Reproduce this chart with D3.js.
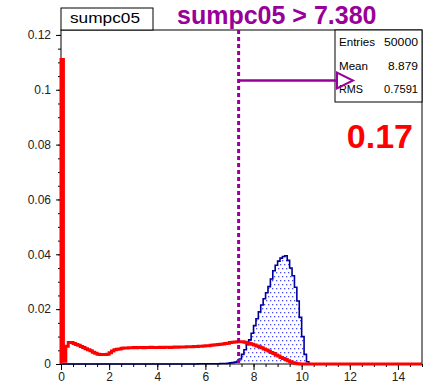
<!DOCTYPE html>
<html lang="en">
  <head>
    <meta charset="UTF-8" />
    <title>sumpc05</title>
    <style>
      body { margin: 0; background: #fff; }
      text { font-family: "Liberation Sans", Arial, Helvetica, sans-serif; }
    </style>
  </head>
  <body>
    <div class="chart"></div>

    <script src="https://cdn.jsdelivr.net/npm/d3@7"></script>

    <script>
      // data ======================================================
      const histName = "sumpc05";
      const cutValue = 7.38;
      const cutLabel = "sumpc05 > 7.380";
      const fracLabel = "0.17";
      const binLow = 0;
      const binWidth = 0.1;

      // background (red), 150 bins of 0.1 from 0 to 15
      const redValues = [
        0.111, 0.001, 0.0065, 0.0078, 0.0078, 0.0075, 0.0071, 0.0068, 0.0064, 0.006,
        0.0056, 0.0052, 0.0048, 0.0043, 0.0039, 0.0036, 0.0035, 0.0035, 0.0035, 0.0036,
        0.0041, 0.0047, 0.0052, 0.0054, 0.0055, 0.0057, 0.0058, 0.0058, 0.0059, 0.0059,
        0.006, 0.0059, 0.006, 0.006, 0.0059, 0.006, 0.006, 0.0061, 0.006, 0.006,
        0.006, 0.0061, 0.006, 0.0061, 0.0061, 0.006, 0.0061, 0.0062, 0.0061, 0.0062,
        0.0062, 0.0062, 0.0063, 0.0063, 0.0063, 0.0064, 0.0064, 0.0065, 0.0065, 0.0066,
        0.0067, 0.0067, 0.0068, 0.0069, 0.007, 0.0071, 0.0072, 0.0073, 0.0075, 0.0076,
        0.0078, 0.0079, 0.008, 0.0081, 0.0081, 0.0081, 0.0079, 0.0077, 0.0075, 0.0072,
        0.0069, 0.0066, 0.0063, 0.0059, 0.0055, 0.0051, 0.0047, 0.0042, 0.0038, 0.0033,
        0.0029, 0.0024, 0.002, 0.0016, 0.0012, 0.0008, 0.0005, 0.0003, 0.0001, 0,
        0, 0, 0, 0, 0, 0, 0, 0, 0, 0,
        0, 0, 0, 0, 0, 0, 0, 0, 0, 0,
        0, 0, 0, 0, 0, 0, 0, 0, 0, 0,
        0, 0, 0, 0, 0, 0, 0, 0, 0, 0,
        0, 0, 0, 0, 0, 0, 0, 0, 0, 0
      ];

      // signal (blue, dotted fill)
      const blueValues = [
        0, 0, 0, 0, 0, 0, 0, 0, 0, 0,
        0, 0, 0, 0, 0, 0, 0, 0, 0, 0,
        0, 0, 0, 0, 0, 0, 0, 0, 0, 0,
        0, 0, 0, 0, 0, 0, 0, 0, 0, 0,
        0, 0, 0, 0, 0, 0, 0, 0, 0, 0,
        0, 0, 0, 0, 0, 0, 0, 0.0001, 0.0001, 0.0001,
        0.0001, 0.0001, 0.0001, 0.0001, 0.0001, 0.0001, 0.0002, 0.0002, 0.0002, 0.0003,
        0.0004, 0.0005, 0.0007, 0.001, 0.0018, 0.0035, 0.0052, 0.007, 0.0088, 0.0112,
        0.014, 0.0165, 0.019, 0.0215, 0.0238, 0.026, 0.0282, 0.031, 0.034, 0.036,
        0.0375, 0.0386, 0.0392, 0.0395, 0.0378, 0.035, 0.0322, 0.028, 0.023, 0.017,
        0.01, 0.0035, 0.0008, 0, 0, 0, 0, 0, 0, 0,
        0, 0, 0, 0, 0, 0, 0, 0, 0, 0,
        0, 0, 0, 0, 0, 0, 0, 0, 0, 0,
        0, 0, 0, 0, 0, 0, 0, 0, 0, 0,
        0, 0, 0, 0, 0, 0, 0, 0, 0, 0
      ];

      const xMajor = [0, 2, 4, 6, 8, 10, 12, 14];
      const xLabels = ["0", "2", "4", "6", "8", "10", "12", "14"];
      const yMajor = [0, 0.02, 0.04, 0.06, 0.08, 0.1, 0.12];
      const yLabels = ["0", "0.02", "0.04", "0.06", "0.08", "0.1", "0.12"];

      const statNames = ["Entries", "Mean", "RMS"];
      const statValues = ["50000", "8.879", "0.7591"];

      // 畫布 ======================================================
      const W = 426, H = 386;
      const L = 61, R = 422, T = 30, B = 364;

      const svg = d3.select(".chart").append("svg")
        .attr("width", W).attr("height", H);

      const x = d3.scaleLinear().domain([0, 15]).range([L, R]);
      const y = d3.scaleLinear().domain([0, 0.1218]).range([B, T]);

      // dotted fill pattern
      const pat = svg.append("defs").append("pattern")
        .attr("id", "dots")
        .attr("patternUnits", "userSpaceOnUse")
        .attr("width", 4).attr("height", 8);
      pat.append("rect").attr("x", 0).attr("y", 0).attr("width", 1.3).attr("height", 1.3).attr("fill", "#4b4bff");
      pat.append("rect").attr("x", 2).attr("y", 4).attr("width", 1.3).attr("height", 1.3).attr("fill", "#4b4bff");

      // histogram step points
      function steps(vals) {
        const pts = [[binLow, 0]];
        vals.forEach((v, i) => {
          pts.push([binLow + i * binWidth, v]);
          pts.push([binLow + (i + 1) * binWidth, v]);
        });
        pts.push([binLow + vals.length * binWidth, 0]);
        return pts;
      }

      const line = d3.line().x((d) => x(d[0])).y((d) => y(d[1]));
      const area = d3.area().x((d) => x(d[0])).y0(y(0)).y1((d) => y(d[1]));

      const bluePts = steps(blueValues);
      svg.append("path").attr("d", area(bluePts)).attr("fill", "url(#dots)");
      svg.append("path").attr("d", line(bluePts))
        .attr("fill", "none").attr("stroke", "#000099").attr("stroke-width", 1.6);

      // frame
      svg.append("rect")
        .attr("x", L).attr("y", T).attr("width", R - L).attr("height", B - T)
        .attr("fill", "none").attr("stroke", "#000").attr("stroke-width", 1);

      const tickFont = (g) => g.selectAll("text").attr("font-size", 12).attr("fill", "#222")
        .style("font-family", '"Liberation Sans", Arial, sans-serif');

      // y axis
      const yMinor = d3.range(0, 0.1201, 0.005);
      svg.append("g").attr("transform", `translate(${L},0)`)
        .call(d3.axisLeft(y).tickValues(yMinor).tickSize(3).tickFormat(""))
        .call((g) => g.select(".domain").remove());
      svg.append("g").attr("transform", `translate(${L},0)`)
        .call(d3.axisLeft(y).tickValues(yMajor).tickSize(5).tickPadding(5)
          .tickFormat((d, i) => yLabels[i]))
        .call((g) => g.select(".domain").remove())
        .call(tickFont);

      // x axis
      const xMinor = d3.range(0, 15.01, 0.5);
      svg.append("g").attr("transform", `translate(0,${B})`)
        .call(d3.axisBottom(x).tickValues(xMinor).tickSize(3).tickFormat(""))
        .call((g) => g.select(".domain").remove());
      svg.append("g").attr("transform", `translate(0,${B})`)
        .call(d3.axisBottom(x).tickValues(xMajor).tickSize(6).tickPadding(2)
          .tickFormat((d, i) => xLabels[i]))
        .call((g) => g.select(".domain").remove())
        .call(tickFont);

      // red histogram on top
      svg.append("path").attr("d", line(steps(redValues)))
        .attr("fill", "none").attr("stroke", "#ff0000").attr("stroke-width", 3)
        .attr("stroke-linejoin", "miter");

      const purple = "#990099";

      // cut line
      svg.append("line")
        .attr("x1", x(cutValue)).attr("x2", x(cutValue))
        .attr("y1", T).attr("y2", B)
        .attr("stroke", purple).attr("stroke-width", 3)
        .attr("stroke-dasharray", "4,3");

      // title box
      svg.append("rect").attr("x", L).attr("y", 8).attr("width", 92).attr("height", 22)
        .attr("fill", "#fff").attr("stroke", "#000");
      svg.append("text").attr("x", 105).attr("y", 23).attr("text-anchor", "middle")
        .attr("font-size", 14.5).attr("textLength", 70).attr("lengthAdjust", "spacingAndGlyphs")
        .text(histName);

      // cut label
      svg.append("text").attr("x", 177).attr("y", 24)
        .attr("font-size", 25).attr("font-weight", "bold").attr("fill", purple)
        .text(cutLabel);

      // stats box
      svg.append("rect").attr("x", 335).attr("y", T).attr("width", R - 335).attr("height", 72)
        .attr("fill", "#fff").attr("stroke", "#000");
      const rowY = [46, 70, 93];
      const nameW = [36, 29, 24];
      const valW = [34, 30, 34];
      statNames.forEach((s, i) => {
        svg.append("text").attr("x", 339).attr("y", rowY[i])
          .attr("font-size", 10).attr("textLength", nameW[i]).attr("lengthAdjust", "spacingAndGlyphs")
          .text(s);
        svg.append("text").attr("x", 418 - valW[i]).attr("y", rowY[i])
          .attr("font-size", 10).attr("textLength", valW[i]).attr("lengthAdjust", "spacingAndGlyphs")
          .text(statValues[i]);
      });

      // arrow (drawn over the stats box)
      const arrowY = 80.5;
      svg.append("line")
        .attr("x1", x(cutValue)).attr("x2", 337)
        .attr("y1", arrowY).attr("y2", arrowY)
        .attr("stroke", purple).attr("stroke-width", 2.5);
      svg.append("path")
        .attr("d", `M337,${arrowY - 8}L337,${arrowY + 8}L353,${arrowY}Z`)
        .attr("fill", "none").attr("stroke", purple).attr("stroke-width", 2);

      // fraction
      svg.append("text").attr("x", 413).attr("y", 148).attr("text-anchor", "end")
        .attr("font-size", 34).attr("font-weight", "bold").attr("fill", "#ff0000")
        .text(fracLabel);
    </script>
  </body>
</html>
